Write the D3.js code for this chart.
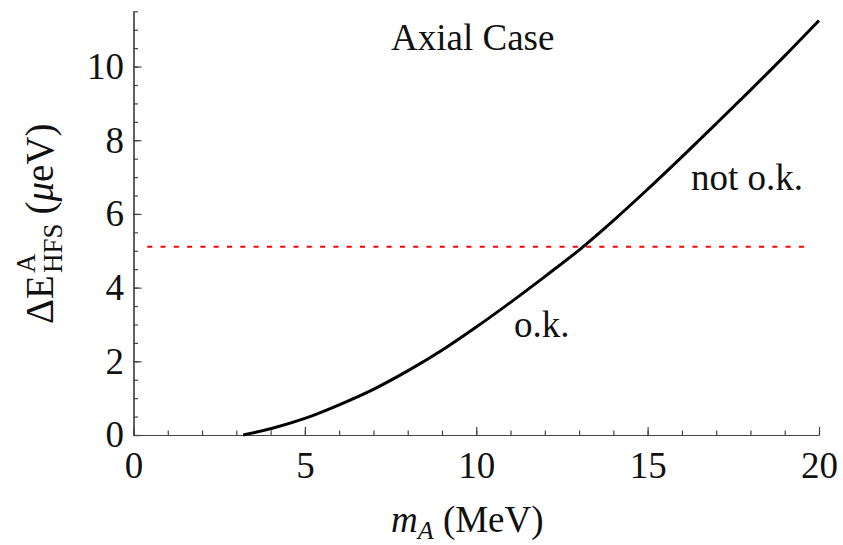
<!DOCTYPE html>
<html>
<head>
<meta charset="utf-8">
<script src="https://cdn.jsdelivr.net/npm/d3@7"></script>
<style>
  body { margin: 0; background: #fff; }
  svg text { font-family: "Liberation Serif", "Times New Roman", serif; fill: #111; }
</style>
</head>
<body>
<svg id="chart" width="843" height="545"></svg>
<script>
// curve: hyperfine shift vs axial mass
const massMeV = [3.2, 4, 5, 6, 7, 8, 9, 10, 11, 12, 13, 14, 15, 16, 17, 18, 19, 20];
const deltaE = [0, 0.17, 0.45, 0.82, 1.24, 1.74, 2.3, 2.93, 3.6, 4.3, 5.02, 5.82, 6.67, 7.55, 8.45, 9.36, 10.29, 11.25];

// allowed limit (red dashed)
const limitX = [0.4, 19.8];
const limitY = 5.11;

const xMajor = [0, 5, 10, 15, 20];
const yMajor = [0, 2, 4, 6, 8, 10];

const svg = d3.select('#chart');
const fs = 37;

const x = d3.scaleLinear().domain([0, 20]).range([133.5, 819]);
const y = d3.scaleLinear().domain([0, 11.5]).range([435, 11.3]);

// axes, ticks pointing inward
function styleAxis (g) {
  g.selectAll('path, line').attr('stroke', '#444').attr('stroke-width', 1.2);
}

const xMinor = svg.append('g')
  .attr('transform', `translate(0,${y(0)})`)
  .call(d3.axisBottom(x).tickValues(d3.range(0, 21)).tickSize(-4.5).tickSizeOuter(0).tickFormat(''));
styleAxis(xMinor);

const xAxis = svg.append('g')
  .attr('transform', `translate(0,${y(0)})`)
  .call(d3.axisBottom(x).tickValues(xMajor).tickSize(-8).tickSizeOuter(0));
styleAxis(xAxis);
xAxis.selectAll('text')
  .attr('y', 17)
  .attr('dy', '0.71em')
  .style('font-size', fs + 'px')
  .style('font-family', '"Liberation Serif", serif')
  .attr('fill', '#111');

const yMinor = svg.append('g')
  .attr('transform', `translate(${x(0)},0)`)
  .call(d3.axisLeft(y).tickValues(d3.range(0, 11.6, 0.5)).tickSize(-4.5).tickSizeOuter(0).tickFormat(''));
styleAxis(yMinor);

const yAxis = svg.append('g')
  .attr('transform', `translate(${x(0)},0)`)
  .call(d3.axisLeft(y).tickValues(yMajor).tickSize(-8).tickSizeOuter(0));
styleAxis(yAxis);
yAxis.selectAll('text')
  .attr('x', -9.5)
  .attr('dy', '0.32em')
  .style('font-size', fs + 'px')
  .style('font-family', '"Liberation Serif", serif')
  .attr('fill', '#111');

// limit line
svg.append('line')
  .attr('x1', x(limitX[0]))
  .attr('x2', x(limitX[1]))
  .attr('y1', y(limitY))
  .attr('y2', y(limitY))
  .attr('stroke', '#ff0000')
  .attr('stroke-width', 2)
  .attr('stroke-dasharray', '5,8.3');

// the curve
const line = d3.line()
  .x((d, i) => x(massMeV[i]))
  .y(d => y(d))
  .curve(d3.curveMonotoneX);

svg.append('path')
  .datum(deltaE)
  .attr('d', line)
  .attr('fill', 'none')
  .attr('stroke', '#000')
  .attr('stroke-width', 3);

// annotations
svg.append('text').attr('x', 391).attr('y', 50).style('font-size', fs + 'px').text('Axial Case');
svg.append('text').attr('x', 691).attr('y', 190).style('font-size', fs + 'px').text('not o.k.');
svg.append('text').attr('x', 514).attr('y', 337).style('font-size', fs + 'px').text('o.k.');

// x label: m_A (MeV)
const xl = svg.append('text').attr('x', 391).attr('y', 532).style('font-size', fs + 'px');
xl.append('tspan').style('font-style', 'italic').text('m');
xl.append('tspan').style('font-style', 'italic').style('font-size', '26px').attr('dy', 7).text('A');
xl.append('tspan').attr('dy', -7).text(' (MeV)');

// y label: ΔE^A_HFS (μeV), rotated
const ly = 39;
const yl = svg.append('g').attr('transform', 'translate(53,324) rotate(-90)');
const t1 = yl.append('text').attr('x', 0).attr('y', 0).style('font-size', ly + 'px').text('ΔE');
const w1 = t1.node().getComputedTextLength() + 2;
const tA = yl.append('text').attr('x', w1).attr('y', -18).style('font-size', '27px').text('A');
const tH = yl.append('text').attr('x', w1).attr('y', 9).style('font-size', '27px').text('HFS');
const w2 = w1 + Math.max(tA.node().getComputedTextLength(), tH.node().getComputedTextLength()) + 9;
const tU = yl.append('text').attr('x', w2).attr('y', 0).style('font-size', ly + 'px');
tU.append('tspan').text('(');
tU.append('tspan').style('font-style', 'italic').text('μ');
tU.append('tspan').text('eV)');
</script>
</body>
</html>
